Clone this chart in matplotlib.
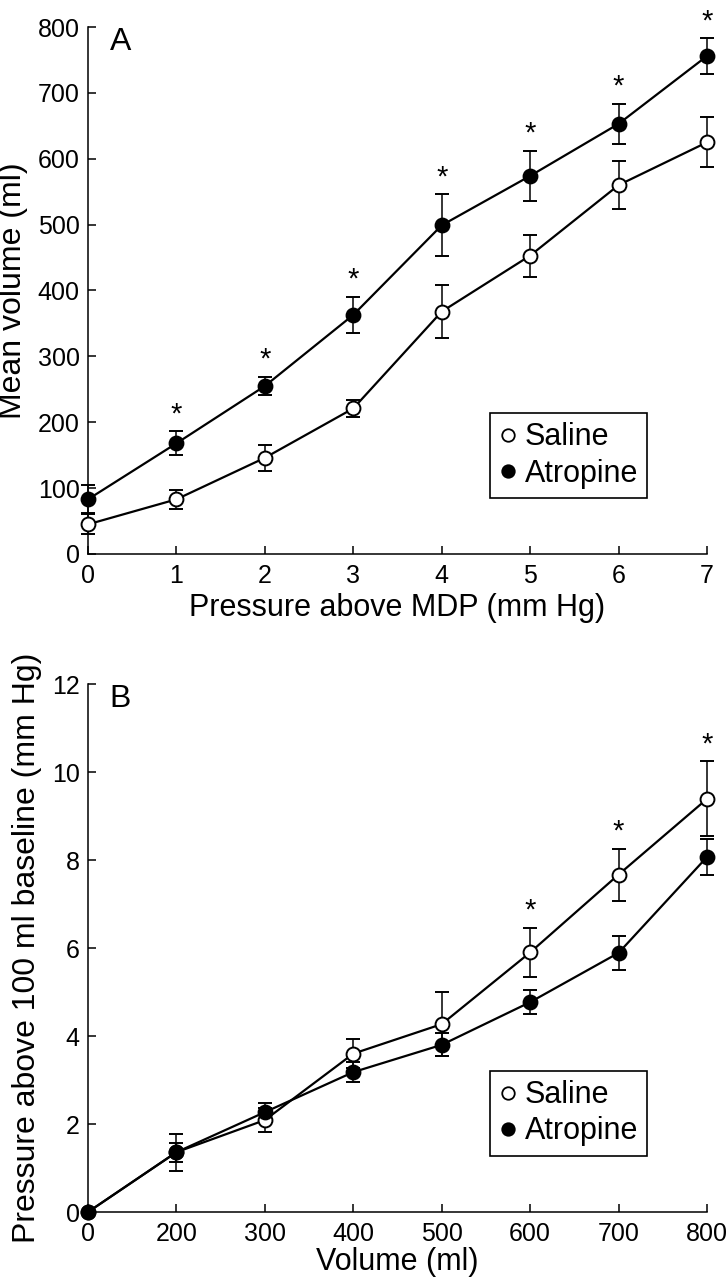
import matplotlib.pyplot as plt
from matplotlib.lines import Line2D
import numpy as np

# panel A: volume at each pressure step above MDP
pressureSteps = [0, 1, 2, 3, 4, 5, 6, 7]
salineVolA = [45, 83, 146, 221, 368, 453, 560, 625]
salineErrA = [15, 14, 20, 13, 40, 32, 36, 38]
atropineVolA = [83, 168, 255, 363, 499, 574, 653, 756]
atropineErrA = [21, 18, 14, 27, 47, 38, 30, 27]
starsA = [1, 2, 3, 4, 5, 6, 7]

# panel B: pressure at each volume (categorical x axis)
volumeSteps = ['0', '200', '300', '400', '500', '600', '700', '800']
salinePresB = [0, 1.36, 2.09, 3.6, 4.27, 5.9, 7.67, 9.39]
salineErrB = [0, 0.42, 0.27, 0.33, 0.73, 0.56, 0.59, 0.85]
atropinePresB = [0, 1.36, 2.27, 3.18, 3.8, 4.77, 5.89, 8.07]
atropineErrB = [0, 0.22, 0.2, 0.23, 0.26, 0.28, 0.39, 0.4]
starsB = [5, 6, 7]

plt.rcParams['font.family'] = ['Liberation Sans', 'DejaVu Sans']

fig = plt.figure(figsize=(7.28, 12.8), dpi=100, facecolor='w')
axA = fig.add_axes([0.1209, 0.5672, 0.8503, 0.4117])
axB = fig.add_axes([0.1209, 0.0531, 0.8503, 0.4125])


def drawSeries(ax, x, y, err, face):
  ax.errorbar(x, y, yerr=err, color='k', lw=1.6, elinewidth=1.1, capsize=4.7,
              capthick=1.1, marker='o', ms=10, mfc=face, mec='k', mew=1.4,
              clip_on=False, zorder=3)


def stars(ax, x, y, err, which):
  for i in which:
    ax.annotate('*', xy=(x[i], y[i] + err[i]), xytext=(0, 6.5),
                textcoords='offset points', ha='center', va='baseline',
                fontsize=21, annotation_clip=False)


def styleAxes(ax, letter):
  ax.spines['top'].set_visible(False)
  ax.spines['right'].set_visible(False)
  for s in ['left', 'bottom']:
    ax.spines[s].set_linewidth(1.1)
  ax.tick_params(direction='in', length=6, width=1.1, labelsize=18)
  ax.tick_params(axis='y', pad=6)
  ax.tick_params(axis='x', pad=7)
  ax.text(0.035, 1.0, letter, transform=ax.transAxes, fontsize=23,
          ha='left', va='top')
  handles = [Line2D([], [], ls='none', marker='o', ms=9, mfc='w', mec='k', mew=1.3),
             Line2D([], [], ls='none', marker='o', ms=9, mfc='k', mec='k', mew=1.3)]
  leg = ax.legend(handles, ['Saline', 'Atropine'], loc='upper left',
                  bbox_to_anchor=(0.649, 0.267), borderaxespad=0, fontsize=22,
                  fancybox=False, framealpha=1, edgecolor='k', handlelength=0.6,
                  handletextpad=0.25, labelspacing=0.2, borderpad=0.3)
  leg.get_frame().set_linewidth(1.2)


# panel A
x = np.array(pressureSteps)
drawSeries(axA, x, salineVolA, salineErrA, 'w')
drawSeries(axA, x, atropineVolA, atropineErrA, 'k')
stars(axA, x, atropineVolA, atropineErrA, starsA)
axA.set_xlim(0, 7)
axA.set_ylim(0, 800)
axA.set_xticks(pressureSteps)
axA.set_yticks(np.arange(0, 801, 100))
axA.set_xlabel('Pressure above MDP (mm Hg)', fontsize=22, labelpad=4)
axA.set_ylabel('Mean volume (ml)', fontsize=23, labelpad=7)
styleAxes(axA, 'A')

# panel B
xb = np.arange(len(volumeSteps))
drawSeries(axB, xb, salinePresB, salineErrB, 'w')
drawSeries(axB, xb, atropinePresB, atropineErrB, 'k')
stars(axB, xb, salinePresB, salineErrB, starsB)
axB.set_xlim(0, len(volumeSteps) - 1)
axB.set_ylim(0, 12)
axB.set_xticks(xb)
axB.set_xticklabels(volumeSteps)
axB.set_yticks(np.arange(0, 13, 2))
axB.set_xlabel('Volume (ml)', fontsize=22, labelpad=1)
axB.set_ylabel('Pressure above 100 ml baseline (mm Hg)', fontsize=23, labelpad=7)
styleAxes(axB, 'B')

plt.savefig('out.png', dpi=100)
